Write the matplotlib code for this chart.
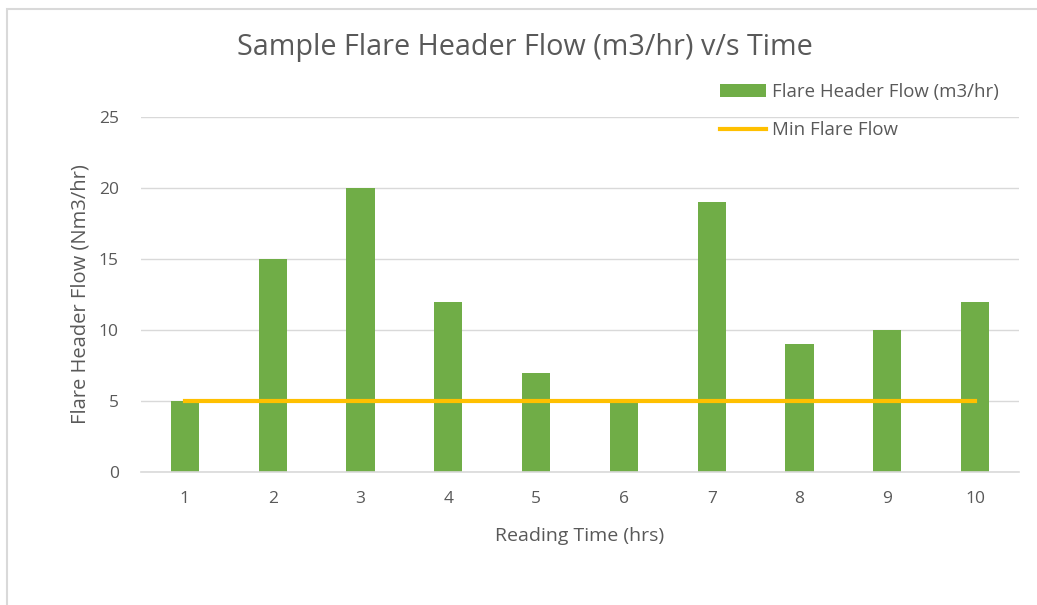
import matplotlib.pyplot as plt
from matplotlib.patches import Rectangle

# data
hours = [1, 2, 3, 4, 5, 6, 7, 8, 9, 10]
flow = [5, 15, 20, 12, 7, 5, 19, 9, 10, 12]
min_flow = [5, 5, 5, 5, 5, 5, 5, 5, 5, 5]
yticks = [0, 5, 10, 15, 20, 25]

plt.rcParams['font.family'] = ['Open Sans', 'DejaVu Sans']
grey = '#595959'
grid = '#d9d9d9'

fig = plt.figure(figsize=(10.37, 6.05), dpi=100)
ax = fig.add_axes([141/1037, 1-472/605, 878/1037, 355/605])

bars = ax.bar(hours, flow, width=0.32, color='#70AD47', label='Flare Header Flow (m3/hr)', zorder=2)
line, = ax.plot(hours, min_flow, color='#FFC000', lw=3, label='Min Flare Flow', zorder=3)

ax.set_xlim(0.5, 10.5)
ax.set_ylim(0, 25)
ax.set_xticks(hours)
ax.set_yticks(yticks)
ax.yaxis.grid(True, color=grid, lw=1, zorder=0)
for s in ['top', 'right', 'left']:
    ax.spines[s].set_visible(False)
ax.spines['bottom'].set_color(grid)
ax.spines['bottom'].set_linewidth(1.2)
ax.tick_params(length=0, colors=grey, labelsize=12.5)
ax.tick_params(axis='y', pad=16)
ax.tick_params(axis='x', pad=14)

ax.set_xlabel('Reading Time (hrs)', color=grey, fontsize=14, labelpad=14)
ax.set_ylabel('Flare Header Flow (Nm3/hr)', color=grey, fontsize=14.5, labelpad=6)
fig.text(525/1037, 1-47/605, 'Sample Flare Header Flow (m3/hr) v/s Time',
         ha='center', va='center', fontsize=20.7, color=grey)

leg = fig.legend([bars, line], ['Flare Header Flow (m3/hr)', 'Min Flare Flow'],
                 loc='center left', bbox_to_anchor=(703/1037, 1-111/605),
                 frameon=False, fontsize=13.4, labelcolor=grey,
                 handlelength=2.5, handletextpad=0.3, labelspacing=1.1)

# chart border
fig.add_artist(Rectangle((7/1037, -0.1), 1.2, 1-9/605+0.1, transform=fig.transFigure,
                         fill=False, edgecolor='#d9d9d9', lw=1.5))

fig.savefig('out.png', dpi=100)
